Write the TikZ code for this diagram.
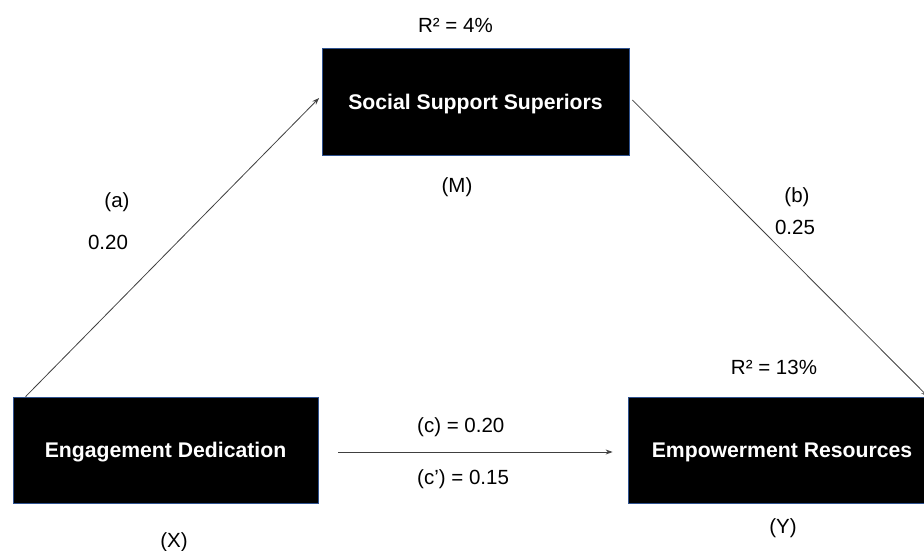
\documentclass[tikz,border=0pt]{standalone}
\usepackage{fontspec}
\setmainfont{Liberation Sans}
\usetikzlibrary{arrows.meta,calc}
\definecolor{boxedge}{HTML}{2F528F}
\definecolor{linegray}{HTML}{404040}
\tikzset{
  varbox/.style={draw=boxedge, line width=0.8pt, fill=black, text=white,
    font=\fontsize{21.2}{24}\selectfont\bfseries, inner sep=0pt,
    text height=15.2pt, text depth=0pt, minimum height=106pt, anchor=center},
  lbl/.style={font=\fontsize{20.5}{24}\selectfont, inner sep=0pt, anchor=base},
  path/.style={draw=linegray, line width=0.8pt, -{Stealth[length=7pt,width=5pt]}}
}
\begin{document}
\begin{tikzpicture}[x=1pt,y=-1pt]
\useasboundingbox (0,0) rectangle (924,551);
\node[varbox, minimum width=307pt, minimum height=107pt] (M) at (475.5,101.5) {Social Support Superiors};
\node[varbox, minimum width=305pt] (X) at (165.5,450) {Engagement Dedication};
\node[varbox, minimum width=308pt] (Y) at (782,450) {Empowerment Resources};

\node[lbl] (r2m) at (455.5,33) {R² = 4\%};
\node[lbl] (mlab) at (457,192) {(M)};
\node[lbl] (xlab) at (174,547) {(X)};
\node[lbl] (ylab) at (783,533) {(Y)};
\node[lbl] (r2y) at (774,374) {R² = 13\%};
\node[lbl] (alab) at (117,207) {(a)};
\node[lbl] (aval) at (108,249) {0.20};
\node[lbl] (blab) at (797,202) {(b)};
\node[lbl] (bval) at (795,234) {0.25};
\node[lbl, anchor=base west] (clab) at (417,432) {(c) = 0.20};
\node[lbl, anchor=base west] (cplab) at (417,484) {(c’) = 0.15};

\draw[path] ([xshift=13pt]X.north west) -- ([xshift=-2.5pt,yshift=3.5pt]M.west);
\draw[path] ([xshift=3pt,yshift=1.5pt]M.east) -- ([xshift=146pt]Y.north);
\draw[path] ([xshift=20pt,yshift=-2pt]X.east) -- ([xshift=-15pt,yshift=-2pt]Y.west);
\end{tikzpicture}
\end{document}
